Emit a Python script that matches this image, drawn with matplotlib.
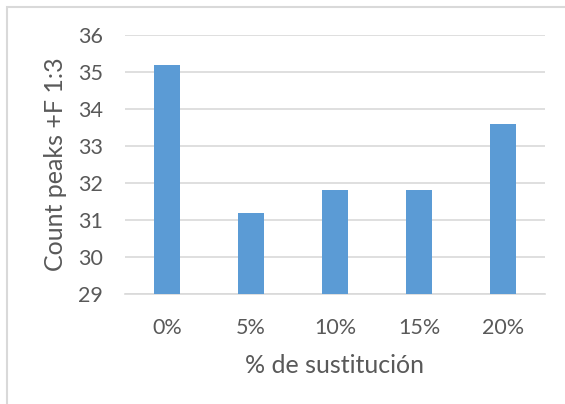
import matplotlib.pyplot as plt
from matplotlib.patches import Rectangle

categories = ["0%", "5%", "10%", "15%", "20%"]
peaks = [35.2, 31.2, 31.8, 31.8, 33.6]
yticks = [29, 30, 31, 32, 33, 34, 35, 36]

BAR_COLOR = "#5b9bd5"
GRID_COLOR = "#d9d9d9"
TEXT_COLOR = "#595959"

plt.rcParams["font.family"] = ["Lato", "DejaVu Sans"]


def main():
    fig = plt.figure(figsize=(5.65, 4.04), dpi=100)
    ax = fig.add_axes([0.2212, 0.2723, 0.7434, 0.6411])

    x = range(len(categories))
    ax.bar(x, peaks, width=0.31, color=BAR_COLOR, zorder=3)

    ax.set_xlim(-0.5, len(categories) - 0.5)
    ax.set_ylim(29, 36)
    ax.set_yticks(yticks)
    ax.set_xticks(list(x))
    ax.set_xticklabels(categories)

    ax.grid(axis="y", color=GRID_COLOR, linewidth=1.2, zorder=0)
    for side in ["top", "right", "left"]:
        ax.spines[side].set_visible(False)
    ax.spines["bottom"].set_color(GRID_COLOR)
    ax.spines["bottom"].set_linewidth(1.2)
    ax.tick_params(length=0, labelsize=15.5, labelcolor=TEXT_COLOR)
    ax.tick_params(axis="x", pad=17)
    ax.tick_params(axis="y", pad=16)

    ax.set_xlabel("% de sustitución", fontsize=18, color=TEXT_COLOR, labelpad=12)
    ax.set_ylabel("Count peaks +F 1:3", fontsize=18, color=TEXT_COLOR, labelpad=8)

    # chart area frame, open on the right and bottom
    fig.patches.append(Rectangle((7 / 565, -0.1), 1.2, 0.1 + (404 - 7) / 404,
                                 transform=fig.transFigure, fill=False,
                                 edgecolor=GRID_COLOR, linewidth=1.5))

    fig.savefig("out.png", dpi=100)
    plt.close(fig)


if __name__ == "__main__":
    main()
